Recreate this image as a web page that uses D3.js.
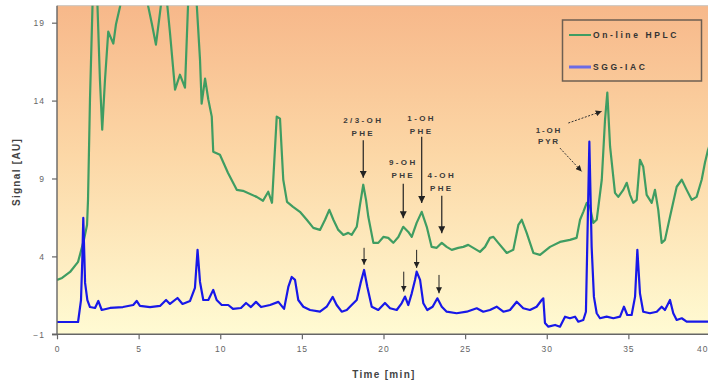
<!DOCTYPE html>
<html><head><meta charset="utf-8">
<script src="https://cdn.jsdelivr.net/npm/d3@7"></script>
<style>body{margin:0;background:#fff}svg{display:block}</style>
</head><body><svg id="c" width="708" height="385"></svg>
<script>
// ---- data ----
const timeGreen = [0,0.31,0.80,1.29,1.65,1.84,1.90,2.02,2.25,2.45,2.63,2.77,2.94,3.14,3.45,3.61,3.86,4.3,5.0,5.4,5.59,5.82,6.06,6.31,6.41,6.6,6.72,6.92,7.23,7.53,7.84,8.04,8.3,8.56,8.76,8.86,9.07,9.27,9.48,9.57,9.98,10.47,11.01,11.39,12.23,12.62,12.94,13.17,13.46,13.66,13.86,14.09,14.46,14.88,15.30,15.70,16.11,16.42,16.68,16.93,17.23,17.54,17.84,18.05,18.36,18.56,18.76,18.93,19.07,19.38,19.68,19.99,20.29,20.60,20.91,21.21,21.52,21.73,22.03,22.34,22.65,22.95,23.26,23.57,23.87,24.18,24.58,24.89,25.19,25.50,25.91,26.22,26.52,26.73,27.03,27.55,27.95,28.26,28.47,28.77,29.18,29.59,30.20,30.81,31.42,31.83,32.04,32.24,32.45,32.65,32.85,33.06,33.37,33.57,33.71,33.88,34.18,34.38,34.69,34.90,35.10,35.30,35.51,35.71,35.91,36.12,36.43,36.63,36.83,37.04,37.24,37.55,37.96,38.27,38.57,38.88,39.18,39.49,39.69,39.88,40];
const signalGreen = [2.49,2.62,3.00,3.65,5.06,6.02,7.63,14.06,23,21,15.34,12.13,15.34,18.43,17.66,18.88,20.03,23,24,22,20.03,18.88,17.59,19.65,20.5,22,20.5,18.36,14.70,15.66,14.83,20.5,23,20.16,16.63,13.80,15.41,14.06,12.97,10.72,10.52,9.37,8.27,8.21,7.82,7.57,8.15,7.44,12.97,12.84,8.92,7.50,7.18,6.86,6.35,5.83,5.70,6.35,6.99,6.35,5.70,5.38,5.51,5.38,5.90,7.31,8.60,7.63,6.54,4.87,4.87,5.25,5.19,4.87,5.25,5.90,5.57,5.25,6.15,6.86,5.90,4.61,4.55,4.87,4.61,4.42,4.55,4.61,4.74,4.55,4.29,4.61,5.19,5.25,4.87,4.22,4.42,6.02,6.35,5.51,4.22,4.10,4.61,4.93,5.06,5.19,6.35,6.86,7.44,7.18,6.15,6.35,8.92,12.77,14.51,11.04,8.08,7.82,8.27,8.72,7.95,7.44,7.63,10.20,9.75,7.95,7.44,8.27,6.99,4.87,5.06,6.54,8.47,8.92,8.27,7.63,7.82,8.92,10.01,10.84,11.2];
const timeBlue = [0,1.29,1.47,1.55,1.61,1.72,1.86,2.02,2.33,2.53,2.74,3.25,4.04,4.67,4.88,5.08,5.70,6.31,6.68,6.92,7.38,7.69,8.15,8.45,8.61,8.76,8.96,9.27,9.57,9.78,10.09,10.49,10.78,11.27,11.58,11.88,12.19,12.50,13.05,13.56,13.91,14.17,14.38,14.58,14.78,15.09,15.50,16.11,16.52,16.89,17.13,17.44,17.75,18.05,18.36,18.60,18.81,19.01,19.28,19.68,20.09,20.40,20.81,21.11,21.32,21.52,21.73,21.93,22.03,22.24,22.44,22.68,23.01,23.30,23.57,23.87,24.48,25.10,25.71,26.11,26.52,26.93,27.34,27.75,28.16,28.56,28.97,29.38,29.69,29.79,29.89,30.10,30.51,30.81,31.12,31.42,31.73,31.93,32.24,32.40,32.48,32.61,32.75,32.89,33.06,33.26,33.67,34.08,34.49,34.73,34.93,35.20,35.41,35.55,35.71,35.91,36.32,36.74,37.04,37.24,37.55,37.75,37.96,38.27,38.57,40];
const signalBlue = [-0.21,-0.21,1.20,3.77,6.47,2.30,1.20,0.75,0.69,1.14,0.56,0.69,0.75,0.88,1.14,0.82,0.75,0.82,1.20,0.95,1.33,0.95,1.14,1.98,4.42,2.36,1.20,1.20,1.85,1.20,0.88,0.88,0.63,0.69,1.01,0.75,1.08,0.75,0.88,1.08,0.63,2.04,2.68,2.49,1.20,0.77,0.56,0.45,0.77,1.40,0.88,0.45,0.56,0.88,1.20,2.30,3.13,2.04,0.77,0.56,1.01,0.67,0.56,0.99,1.42,0.88,1.63,2.49,3.02,2.49,0.99,0.56,0.77,1.31,0.77,0.45,0.35,0.45,0.67,0.45,0.56,0.77,0.45,0.56,1.09,0.67,0.56,0.77,1.20,1.31,-0.27,-0.51,-0.40,-0.51,0.13,0.03,0.13,-0.19,-0.08,0.45,4.61,11.36,4.61,1.40,0.35,0.03,0.13,0.03,0.13,0.77,0.24,0.24,1.42,4.42,1.63,0.45,0.35,0.45,0.77,0.56,1.20,0.35,-0.08,0.03,-0.19,-0.19];
const xTicks = [0,5,10,15,20,25,30,35,40];
const yTicks = [-1,4,9,14,19];
const seriesNames = ["On-line HPLC","SGG-IAC"];
const seriesColors = ["#3f9d62","#1818e8"];
const xTitle = "Time [min]";
const yTitle = "Signal [AU]";
// peak annotations (green trace)
const phLabels = [["2/3-OH","PHE"],["9-OH","PHE"],["1-OH","PHE"],["4-OH","PHE"]];
const phTime = [18.76,21.21,22.34,23.57];
const phTextSignal = [12.77,10.03,12.88,9.24];
const phArrowFrom = [11.45,8.66,11.68,7.89];
const phArrowTo = [9.04,6.45,7.42,5.49];
// peak arrows (blue trace)
const blueArrowTime = [18.81,21.24,22.03,23.40];
const blueArrowFrom = [4.55,3.02,4.42,2.81];
const blueArrowTo = [3.46,1.74,3.26,1.63];
// 1-OH PYR annotation
const pyrLabel = ["1-OH","PYR"];
const pyrTextAt = [30.14,12.13];
const pyrArrows = [[[31.32,12.56],[33.37,13.31]],[[30.81,10.95],[32.14,9.45]]];

// ---- layout ----
const W = 708, H = 385;
const x = d3.scaleLinear().domain([0,40]).range([57,710]);
const y = d3.scaleLinear().domain([-1,20.09]).range([334.3,5.7]);
const svg = d3.select("#c");
const defs = svg.append("defs");
const grad = defs.append("linearGradient").attr("id","bg").attr("x1",0).attr("y1",0).attr("x2",0).attr("y2",1);
grad.append("stop").attr("offset","0%").attr("stop-color","#f7b88a");
grad.append("stop").attr("offset","45%").attr("stop-color","#fcd7a6");
grad.append("stop").attr("offset","100%").attr("stop-color","#fffbd3");
defs.append("clipPath").attr("id","clip").append("rect")
  .attr("x",x(0)).attr("y",y.range()[1]).attr("width",W-x(0)).attr("height",y.range()[0]-y.range()[1]);
const mk = defs.append("marker").attr("id","ah").attr("viewBox","0 0 10 10").attr("refX",10).attr("refY",5)
  .attr("markerWidth",7).attr("markerHeight",7).attr("markerUnits","userSpaceOnUse").attr("orient","auto");
mk.append("path").attr("d","M0,0L10,5L0,10Z").attr("fill","#222");
const mk2 = defs.append("marker").attr("id","ah2").attr("viewBox","0 0 10 10").attr("refX",10).attr("refY",5)
  .attr("markerWidth",6).attr("markerHeight",6).attr("markerUnits","userSpaceOnUse").attr("orient","auto");
mk2.append("path").attr("d","M0,0L10,5L0,10Z").attr("fill","#222");

svg.append("rect").attr("x",x(0)).attr("y",y.range()[1]).attr("width",W-x(0)).attr("height",y.range()[0]-y.range()[1]).attr("fill","url(#bg)");
svg.append("line").attr("x1",x(0)).attr("x2",W).attr("y1",y.range()[1]).attr("y2",y.range()[1]).attr("stroke","#c9c4bd").attr("stroke-width",1);

// lines
const g = svg.append("g").attr("clip-path","url(#clip)");
const line = d3.line().x(d=>x(d[0])).y(d=>y(d[1]));
g.append("path").datum(timeGreen.map((t,i)=>[t,signalGreen[i]])).attr("d",line)
  .attr("fill","none").attr("stroke",seriesColors[0]).attr("stroke-width",2.2).attr("stroke-linejoin","round");
g.append("path").datum(timeBlue.map((t,i)=>[t,signalBlue[i]])).attr("d",line)
  .attr("fill","none").attr("stroke",seriesColors[1]).attr("stroke-width",2.2).attr("stroke-linejoin","round");

// axes
const font = "Liberation Sans, Arial, sans-serif";
const ax = svg.append("g").attr("transform",`translate(0,${y(-1)})`)
  .call(d3.axisBottom(x).tickValues(xTicks).tickSize(5).tickPadding(7).tickFormat(d3.format("d")));
const ay = svg.append("g").attr("transform",`translate(${x(0)},0)`)
  .call(d3.axisLeft(y).tickValues(yTicks).tickSize(5).tickPadding(7).tickFormat(d3.format("d")));
[ax,ay].forEach(a=>{
  a.select(".domain").attr("stroke","#666").attr("stroke-width",1.4);
  a.selectAll(".tick line").attr("stroke","#666").attr("stroke-width",1.2);
  a.selectAll(".tick text").attr("fill","#666").attr("font-family",font)
   .attr("font-size",8.5).attr("letter-spacing",1);
});
// last x label sits at the right edge of the picture
ax.selectAll(".tick").filter(d=>d===40).select("text").attr("text-anchor","end").attr("dx",-2);
ay.select(".domain").attr("d",`M-5,${y(-1)}H0V${y.range()[1]}`);
ax.select(".domain").attr("d",`M${x(0)},0H${W}`);

svg.append("text").attr("x",384).attr("y",378).attr("text-anchor","middle")
  .attr("font-family",font).attr("font-weight","bold").attr("font-size",10).attr("letter-spacing",1.3)
  .attr("fill","#444").text(xTitle);
svg.append("text").attr("transform","translate(20,172) rotate(-90)").attr("text-anchor","middle")
  .attr("font-family",font).attr("font-weight","bold").attr("font-size",10).attr("letter-spacing",1.3)
  .attr("fill","#444").text(yTitle);

// annotations
const ann = svg.append("g");
phLabels.forEach((lab,i)=>{
  lab.forEach((s,j)=>{
    ann.append("text").attr("x",x(phTime[i])).attr("y",y(phTextSignal[i])+3+j*13)
      .attr("text-anchor","middle").attr("font-family",font).attr("font-weight","bold")
      .attr("font-size",8).attr("letter-spacing",2.4).attr("fill","#3a3a3a").text(s);
  });
  ann.append("line").attr("x1",x(phTime[i])).attr("x2",x(phTime[i]))
    .attr("y1",y(phArrowFrom[i])).attr("y2",y(phArrowTo[i]))
    .attr("stroke","#222").attr("stroke-width",1.2).attr("marker-end","url(#ah)");
});
blueArrowTime.forEach((t,i)=>{
  ann.append("line").attr("x1",x(t)).attr("x2",x(t)).attr("y1",y(blueArrowFrom[i])).attr("y2",y(blueArrowTo[i]))
    .attr("stroke","#222").attr("stroke-width",1).attr("marker-end","url(#ah2)");
});
pyrLabel.forEach((s,j)=>{
  ann.append("text").attr("x",x(pyrTextAt[0])).attr("y",y(pyrTextAt[1])+3+j*11.5)
    .attr("text-anchor","middle").attr("font-family",font).attr("font-weight","bold")
    .attr("font-size",8).attr("letter-spacing",1.8).attr("fill","#3a3a3a").text(s);
});
pyrArrows.forEach(a=>{
  ann.append("line").attr("x1",x(a[0][0])).attr("y1",y(a[0][1])).attr("x2",x(a[1][0])).attr("y2",y(a[1][1]))
    .attr("stroke","#333").attr("stroke-width",1).attr("stroke-dasharray","2,1.5").attr("marker-end","url(#ah2)");
});

// legend
const lg = svg.append("g");
lg.append("rect").attr("x",562.5).attr("y",20).attr("width",139).attr("height",61)
  .attr("fill","none").attr("stroke","#6e5f52").attr("stroke-width",1.5);
seriesNames.forEach((n,i)=>{
  const yy = 35 + i*32;
  lg.append("line").attr("x1",569).attr("x2",591).attr("y1",yy).attr("y2",yy)
    .attr("stroke",i===0?seriesColors[0]:"#6b6be6").attr("stroke-width",i===0?2:3);
  lg.append("text").attr("x",593).attr("y",yy+3).attr("font-family",font).attr("font-weight","bold")
    .attr("font-size",8.5).attr("letter-spacing",2.6).attr("fill","#333").text(n);
});
</script></body></html>
